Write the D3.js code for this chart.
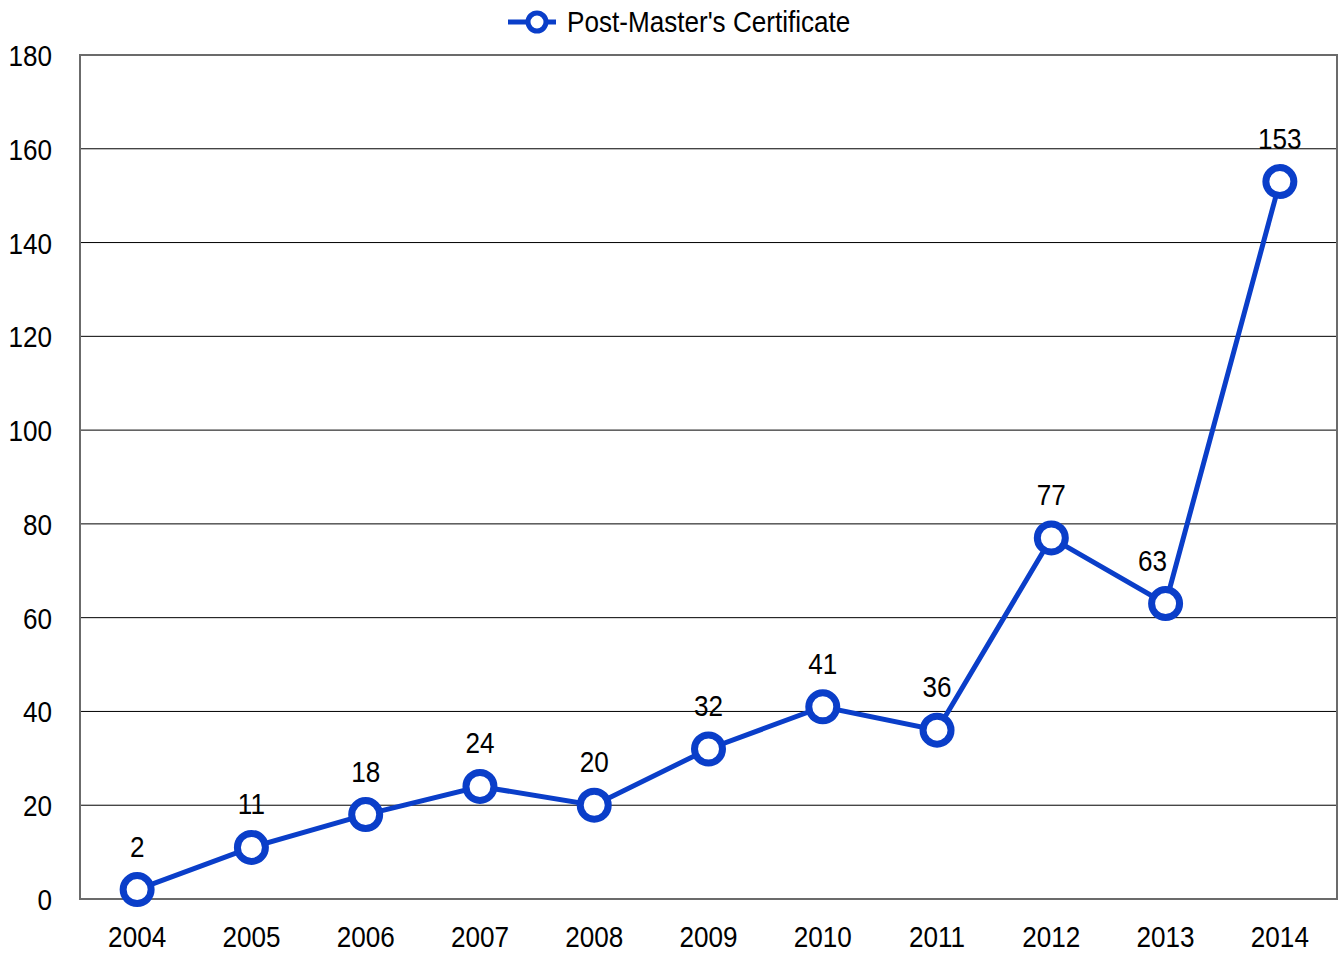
<!DOCTYPE html>
<meta charset="utf-8">
<style>
    body { margin: 0; background: #fff; }
    svg text { font-family: "Liberation Sans", Arial, sans-serif; fill: #000; }
    .grid line { stroke: #000; stroke-width: 1; }
</style>
<svg width="1338" height="955"></svg>
<script src="https://d3js.org/d3.v7.min.js"></script>
<script>
    // data
    var years = ["2004", "2005", "2006", "2007", "2008", "2009", "2010", "2011", "2012", "2013", "2014"];
    var counts = [2, 11, 18, 24, 20, 32, 41, 36, 77, 63, 153];
    var yTicks = [0, 20, 40, 60, 80, 100, 120, 140, 160, 180];
    var seriesName = "Post-Master's Certificate";

    var svg = d3.select("svg");
    var blue = "#0a3ec9";
    var squeeze = 0.9; // narrow look of the original font
    var margin = {left: 80, top: 55, right: 1, bottom: 56};
    var width = 1338 - margin.left - margin.right,
        height = 955 - margin.top - margin.bottom;

    var x = d3.scaleBand().domain(years).range([0, width]).padding(0);
    var y = d3.scaleLinear().domain([0, 180]).range([height, 0]);

    var g = svg.append("g").attr("transform", "translate(" + margin.left + "," + margin.top + ")");

    // gridlines
    g.append("g").attr("class", "grid")
        .selectAll("line")
        .data(yTicks.filter(function (d) { return d > 0 && d < 180; }))
        .enter().append("line")
        .attr("x1", 0).attr("x2", width)
        .attr("y1", function (d) { return y(d); })
        .attr("y2", function (d) { return y(d); });

    // frame
    g.append("rect")
        .attr("x", 0).attr("y", 0)
        .attr("width", width).attr("height", height)
        .attr("fill", "none")
        .attr("stroke", "#6b6b6b")
        .attr("stroke-width", 2);

    // y axis labels
    var yAxis = d3.axisLeft(y).tickValues(yTicks).tickSize(0).tickPadding(31);
    var ya = g.append("g").call(yAxis);
    ya.select(".domain").remove();
    ya.selectAll("text").style("font-size", "29px").attr("dy", "0.36em")
        .attr("transform", "scale(" + squeeze + ",1)");

    // x axis labels
    var xAxis = d3.axisBottom(x).tickSize(0).tickPadding(27);
    var xa = g.append("g").attr("transform", "translate(0," + height + ")").call(xAxis);
    xa.select(".domain").remove();
    xa.selectAll("text").style("font-size", "29px")
        .attr("transform", "scale(" + squeeze + ",1)");

    var cx = function (d, i) { return x(years[i]) + x.bandwidth() / 2; };

    // line
    var line = d3.line()
        .x(function (d, i) { return cx(d, i); })
        .y(function (d) { return y(d); });

    g.append("path")
        .datum(counts)
        .attr("d", line)
        .attr("fill", "none")
        .attr("stroke", blue)
        .attr("stroke-width", 5);

    g.selectAll("circle.pt")
        .data(counts)
        .enter().append("circle")
        .attr("class", "pt")
        .attr("cx", cx)
        .attr("cy", function (d) { return y(d); })
        .attr("r", 14)
        .attr("fill", "#fff")
        .attr("stroke", blue)
        .attr("stroke-width", 7);

    // value labels (the 2013 one sits a bit left, off the rising line)
    g.selectAll("text.val")
        .data(counts)
        .enter().append("text")
        .attr("class", "val")
        .attr("transform", function (d, i) {
            var dx = i === 9 ? -13 : 0;
            return "translate(" + (cx(d, i) + dx) + "," + (y(d) - 33) + ") scale(" + squeeze + ",1)";
        })
        .attr("text-anchor", "middle")
        .style("font-size", "29px")
        .text(function (d) { return d; });

    // legend
    var lg = svg.append("g").attr("transform", "translate(508,22)");
    lg.append("line").attr("x1", 0).attr("x2", 48).attr("y1", 0).attr("y2", 0)
        .attr("stroke", blue).attr("stroke-width", 5);
    lg.append("circle").attr("cx", 29).attr("cy", 0).attr("r", 9)
        .attr("fill", "#fff").attr("stroke", blue).attr("stroke-width", 5);
    lg.append("text").attr("transform", "translate(59,0) scale(" + squeeze + ",1)")
        .attr("dy", "0.36em")
        .style("font-size", "29px")
        .text(seriesName);
</script>
